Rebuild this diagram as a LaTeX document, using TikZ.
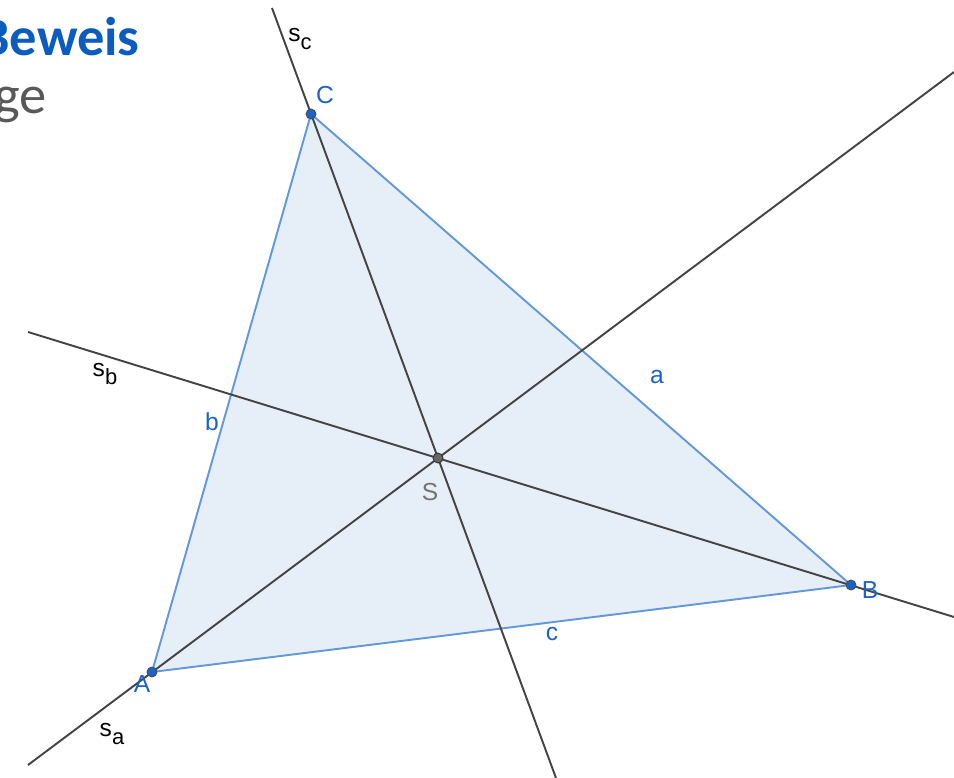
\documentclass[tikz,border=0pt]{standalone}
\usepackage{fontspec}
\setmainfont{Liberation Sans}
\newfontfamily\titlefont{Carlito}
\definecolor{geoblue}{HTML}{1C63C7}
\definecolor{edgeblue}{HTML}{6399DB}
\definecolor{fillblue}{HTML}{E6EEF8}
\definecolor{linegray}{HTML}{444444}
\definecolor{textgray}{HTML}{595959}
\definecolor{titleblue}{HTML}{0B5CBE}
\newcommand{\sub}[2]{#1\raisebox{-0.6ex}{\fontsize{12.5}{14}\selectfont #2}}
\begin{document}
\begin{tikzpicture}[x=0.02cm, y=-0.02cm,
  every node/.style={font=\fontsize{14}{16}\selectfont},
  vtx/.style={circle, draw=black!70, fill=geoblue, line width=0.5pt, inner sep=0pt, minimum size=0.2cm},
  ctr/.style={circle, draw=black!80, fill=black!60, line width=0.5pt, inner sep=0pt, minimum size=0.2cm},
  med/.style={draw=linegray, line width=1.1pt},
  side/.style={draw=edgeblue, line width=1.1pt},
  lbl/.style={text=geoblue, inner sep=1pt},
  title/.style={font=\titlefont\fontsize{31}{36}\selectfont, anchor=base east, inner sep=0pt}]
\path[use as bounding box, clip] (0,0) rectangle (954,778);
% slide text, cut off at the left
\node[title, text=titleblue] (head) at (140,55) {\bfseries Beweis};
\node[title, text=textgray] (sub) at (47,113) {ge};
% vertices and centroid
\coordinate (pA) at (152,672);
\coordinate (pB) at (851,585);
\coordinate (pC) at (311,114);
\coordinate (pS) at (438,458);
% triangle
\fill[fillblue] (pA) -- (pB) -- (pC) -- cycle;
\draw[side] (pA) -- (pB) -- (pC) -- cycle;
% medians, ends on the frame
\coordinate (sa0) at (28,765);
\coordinate (sa1) at (954,72);
\coordinate (sb0) at (28,332);
\coordinate (sb1) at (954,617);
\coordinate (sc0) at (272,8);
\coordinate (sc1) at (556,778);
\draw[med] (sa0) -- (sa1);
\draw[med] (sb0) -- (sb1);
\draw[med] (sc0) -- (sc1);
% points
\node[vtx] (A) at (pA) {};
\node[vtx] (B) at (pB) {};
\node[vtx] (C) at (pC) {};
\node[ctr] (S) at (pS) {};
% labels
\node[lbl] (lA) at (142,684) {A};
\node[lbl] (lB) at (870,590) {B};
\node[lbl] (lC) at (325,95) {C};
\node[text=black!55] (lS) at (430,492) {S};
\node[lbl] (la) at (657,377) {a};
\node[lbl] (lb) at (212,422) {b};
\node[lbl] (lc) at (552,634) {c};
\node (lsa) at (112,734) {\sub{s}{a}};
\node (lsb) at (105,374) {\sub{s}{b}};
\node (lsc) at (300,39) {\sub{s}{c}};
\end{tikzpicture}
\end{document}
